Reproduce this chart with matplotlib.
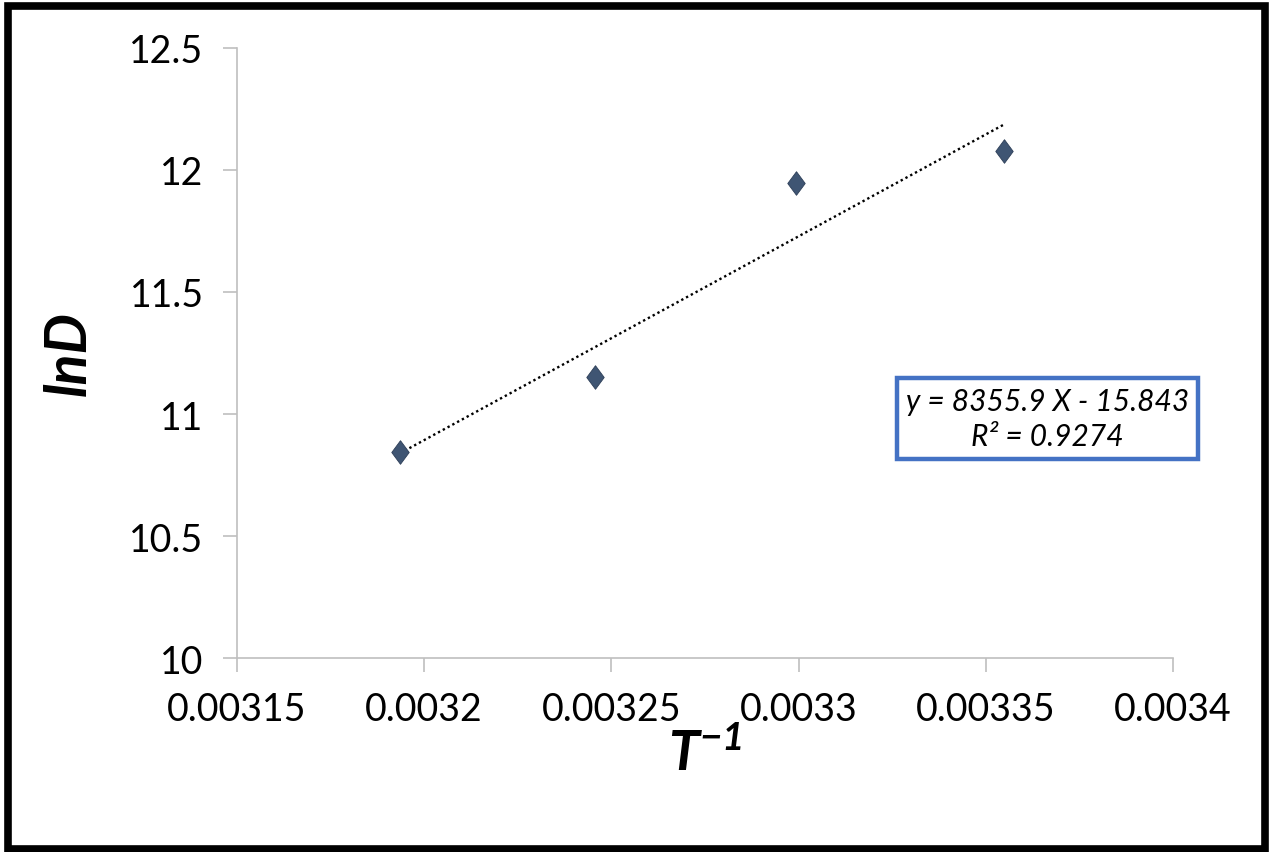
import numpy as np
import matplotlib
matplotlib.use('Agg')
import matplotlib.pyplot as plt
from matplotlib.patches import Rectangle

# values
inv_T = [0.0031935, 0.0032456, 0.0032993, 0.0033548]
ln_D = [10.844, 11.152, 11.947, 12.078]
x_ticks = [0.00315, 0.0032, 0.00325, 0.0033, 0.00335, 0.0034]
x_tick_labels = ['0.00315', '0.0032', '0.00325', '0.0033', '0.00335', '0.0034']
y_ticks = [10, 10.5, 11, 11.5, 12, 12.5]
y_tick_labels = ['10', '10.5', '11', '11.5', '12', '12.5']
eq_text = 'y = 8355.9 X - 15.843\nR² = 0.9274'

plt.rcParams['font.family'] = ['Lato', 'DejaVu Sans']
plt.rcParams['mathtext.fontset'] = 'custom'
plt.rcParams['mathtext.it'] = 'Lato:italic'
plt.rcParams['mathtext.rm'] = 'Lato:italic'
plt.rcParams['mathtext.bf'] = 'Lato:bold:italic'

fig = plt.figure(figsize=(12.72, 8.53), dpi=100)
ax = fig.add_axes([0.1863, 0.2274, 0.7359, 0.7152])

# trend line (least squares over the data range)
slope, icpt = np.polyfit(inv_T, ln_D, 1)
xs = np.array([min(inv_T), max(inv_T)])
ax.plot(xs, slope * xs + icpt, color='black', lw=1.7, ls=(0, (1, 1.3)), zorder=2)

diamond = [(0, 1), (0.74, 0), (0, -1), (-0.74, 0), (0, 1)]
ax.plot(inv_T, ln_D, ls='none', marker=diamond, markersize=17,
        color='#3F5573', markeredgecolor='#2E3F58', markeredgewidth=0.6, zorder=3)

ax.set_xlim(0.00315, 0.0034)
ax.set_ylim(10, 12.5)
ax.set_xticks(x_ticks)
ax.set_xticklabels(x_tick_labels)
ax.set_yticks(y_ticks)
ax.set_yticklabels(y_tick_labels)
ax.tick_params(axis='both', labelsize=27, length=10, width=1.2, color='#BFBFBF')
ax.tick_params(axis='y', pad=14)
ax.tick_params(axis='x', pad=14)

for s in ['top', 'right']:
    ax.spines[s].set_visible(False)
for s in ['left', 'bottom']:
    ax.spines[s].set_color('#BFBFBF')
    ax.spines[s].set_linewidth(1.2)

ax.set_xlabel('$\\mathbf{T^{-1}}$', fontsize=40, labelpad=0)
ax.set_ylabel('lnD', fontsize=41, fontweight='bold', style='italic', labelpad=24)

ax.text(0.866, 0.392, eq_text, transform=ax.transAxes, ha='center', va='center',
        fontsize=21.5, style='italic', linespacing=1.3,
        bbox=dict(boxstyle='square,pad=0.3', fc='white', ec='#4472C4', lw=3.2))

fig.patches.append(Rectangle((0.006, 0.004), 0.9885, 0.988, transform=fig.transFigure,
                             fill=False, lw=5.5, ec='black'))

fig.savefig('out.png', dpi=100)
